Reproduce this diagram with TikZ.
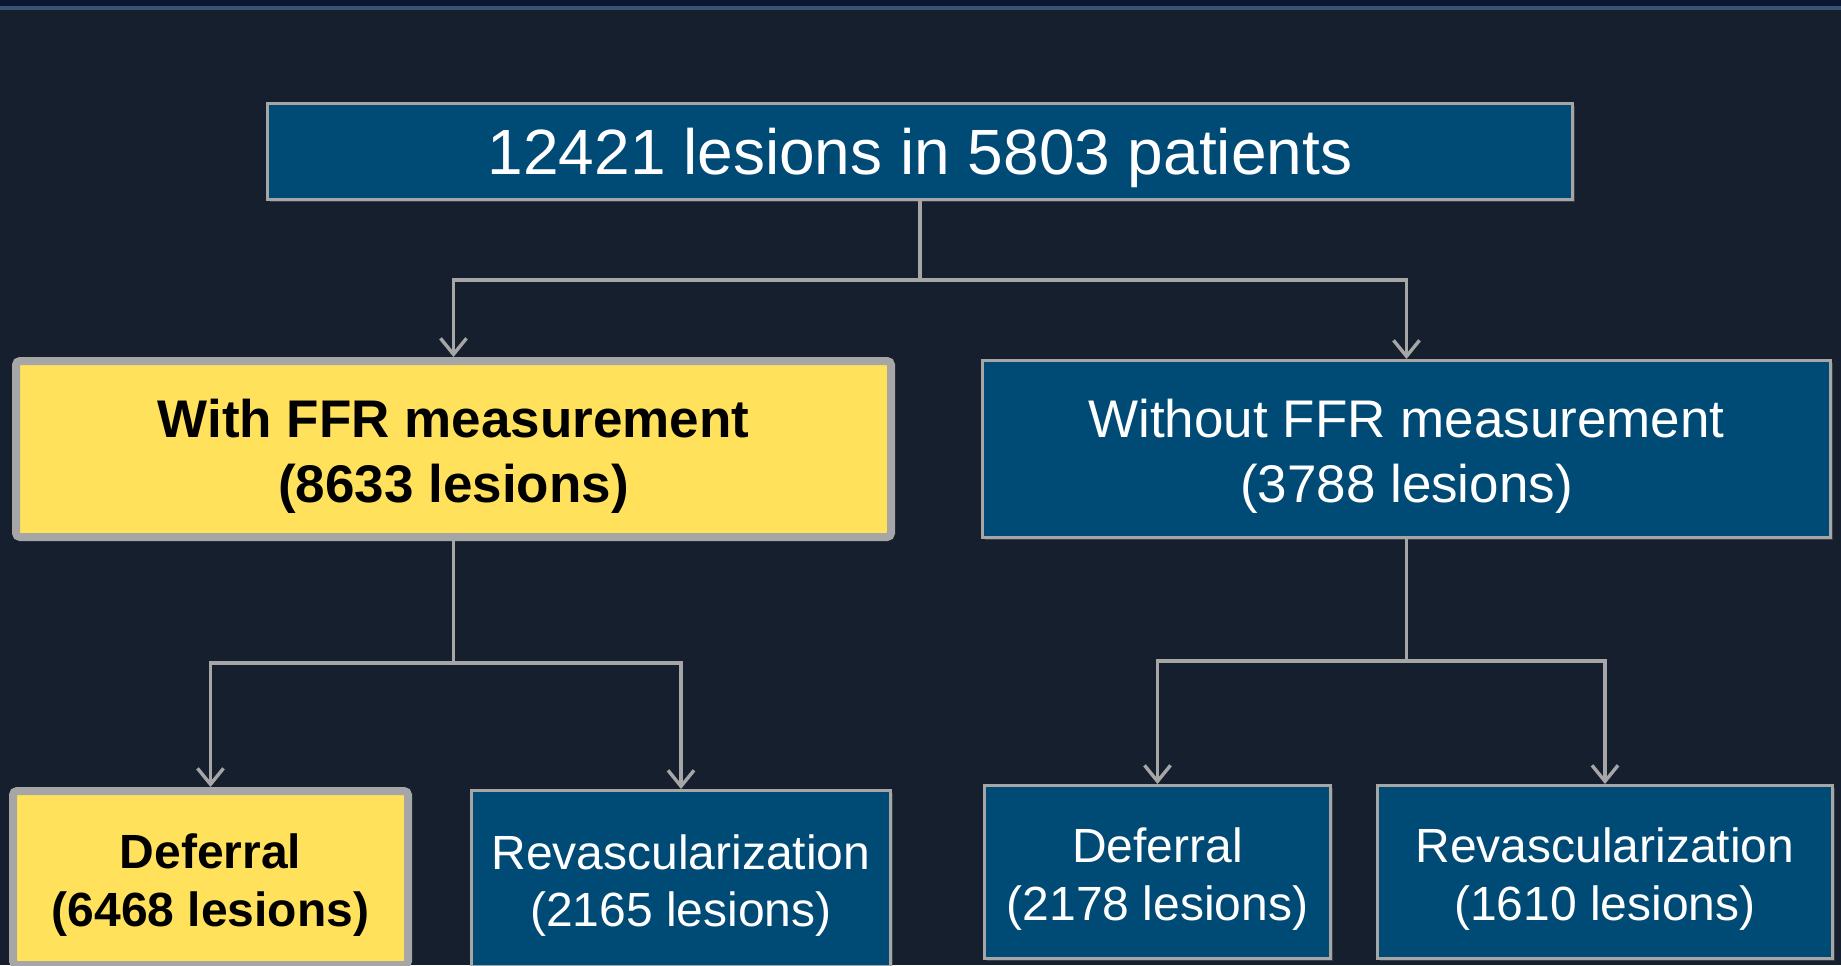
\documentclass[tikz,border=0pt]{standalone}
\usepackage{fontspec}
\setmainfont{Liberation Sans}
\usetikzlibrary{arrows.meta,positioning,calc,shadows}
\definecolor{slide}{HTML}{151F2D}
\definecolor{strip}{HTML}{0A1733}
\definecolor{band}{HTML}{3A5373}
\definecolor{deep}{HTML}{004A76}
\definecolor{gold}{HTML}{FFE15C}
\definecolor{edge}{HTML}{A6A6A6}

\begin{document}
\begin{tikzpicture}[x=0.5pt, y=-0.5pt,
  box/.style={draw=edge, fill=deep, text=white, align=flush center, line width=1.5pt, inner sep=0pt,
    execute at begin node={\rule{0pt}{\dimexpr0.72em+7pt\relax}},
    drop shadow={shadow xshift=1.2pt, shadow yshift=-1.2pt, opacity=0.35}},
  hit/.style={box, fill=gold, text=black, line width=4pt, rounded corners=2pt,
    execute at begin node={\bfseries\rule{0pt}{\dimexpr0.72em+6pt\relax}}},
  big/.style={font=\fontsize{32}{38}\selectfont},
  mid/.style={font=\fontsize{26.5}{32.5}\selectfont},
  low/.style={font=\fontsize{24}{28.75}\selectfont},
  wire/.style={draw=edge, line width=1.7pt},
  flow/.style={wire, -{Straight Barb[length=8pt, width=13pt]}}]
\clip (0,0) rectangle (1841,965);
\fill[slide] (0,0) rectangle (1841,965);
\fill[strip] (0,0) rectangle (1841,6);
\fill[band] (0,6) rectangle (1841,10);

% level 1
\node[box, big, text width=652.5pt, minimum height=48pt] (tot) at (920,151.5) {12421 lesions in 5803 patients};

% level 2
\node[hit, mid, text width=437.5pt, minimum height=88pt] (ffr) at (453.5,449) {With FFR measurement\\(8633 lesions)};
\node[box, mid, text width=424pt, minimum height=88.5pt] (noffr) at (1406.5,449) {Without FFR measurement\\(3788 lesions)};

% level 3
\node[hit, low, text width=197.5pt, minimum height=87pt] (ffrdef) at (210.5,878) {Deferral\\(6468 lesions)};
\node[box, low, text width=209.5pt, minimum height=88pt] (ffrrev) at (681,878.5) {Revascularization\\(2165 lesions)};
\node[box, low, text width=173pt, minimum height=86.5pt] (nodef) at (1157.5,872) {Deferral\\(2178 lesions)};
\node[box, low, text width=227.5pt, minimum height=86.5pt] (norev) at (1605,872) {Revascularization\\(1610 lesions)};

\coordinate (j0) at ($(tot.south)+(0,79)$);
\coordinate (j1) at ($(ffr.south)+(0,122)$);
\coordinate (j2) at ($(noffr.south)+(0,122)$);

\draw[wire] (tot.south) -- (j0);
\draw[flow] (j0) -| (ffr.north);
\draw[flow] (j0) -| (noffr.north);
\draw[wire] (ffr.south) -- (j1);
\draw[flow] (j1) -| (ffrdef.north);
\draw[flow] (j1) -| (ffrrev.north);
\draw[wire] (noffr.south) -- (j2);
\draw[flow] (j2) -| (nodef.north);
\draw[flow] (j2) -| (norev.north);
\end{tikzpicture}
\end{document}
